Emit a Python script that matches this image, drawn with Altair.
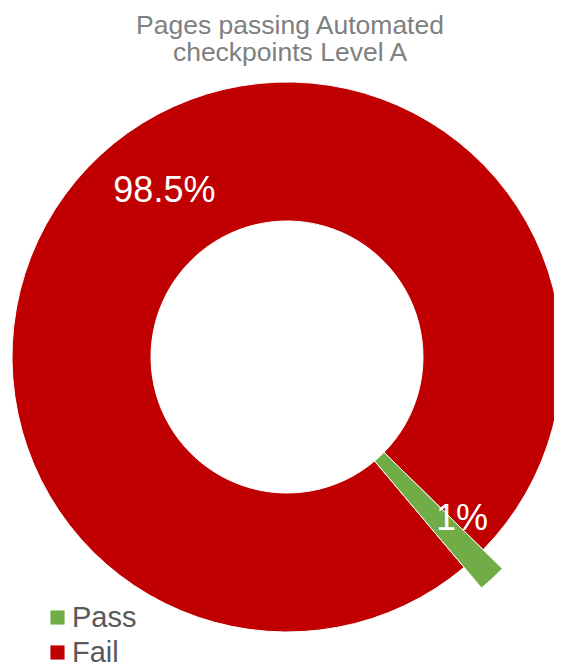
import math
import altair as alt
import pandas as pd

categories = ["Pass", "Fail"]
values = [1.5, 98.5]
label_text = ["1%", "98.5%"]
colors = ["#70AD47", "#C00000"]
order = [0, 1]

df = pd.DataFrame({"category": categories, "value": values,
                   "label": label_text, "order": order})

start = math.radians(134.5)
theta_scale = alt.Scale(domain=[0, 100], range=[start, start + 2 * math.pi])

CX, CY = 279, 279
R_OUT, R_IN, EXPLODE = 275, 136, 27
FONT = "Liberation Sans"

base = (
    alt.Chart(df)
    .transform_window(cum="sum(value)", sort=[alt.SortField("order")], frame=[None, 0])
    .transform_calculate(start="datum.cum - datum.value",
                         mid="datum.cum - datum.value / 2")
)

color = alt.Color(
    "category:N",
    scale=alt.Scale(domain=categories, range=colors),
    legend=alt.Legend(
        orient="none", legendX=35, legendY=525, title=None,
        symbolType="square", symbolSize=200, symbolStrokeWidth=0,
        labelFontSize=29, labelFont=FONT, labelColor="#595959",
        rowPadding=5, labelOffset=0, padding=0,
    ),
)

enc = dict(
    theta=alt.Theta("start:Q", scale=theta_scale),
    theta2=alt.Theta2("cum:Q"),
    color=color,
    x=alt.value(CX),
    y=alt.value(CY),
)

fail_arc = base.transform_filter("datum.category == 'Fail'").mark_arc(
    radius=R_OUT, radius2=R_IN, stroke="white", strokeWidth=1
).encode(**enc)

pass_arc = base.transform_filter("datum.category == 'Pass'").mark_arc(
    radius=R_OUT, radius2=R_IN, radiusOffset=EXPLODE, radius2Offset=EXPLODE,
    stroke="white", strokeWidth=1
).encode(**enc)

txt_enc = dict(
    theta=alt.Theta("mid:Q", scale=theta_scale),
    text=alt.Text("label:N"),
    x=alt.value(CX),
    y=alt.value(CY),
)

fail_text = base.transform_filter("datum.category == 'Fail'").mark_text(
    radius=(R_OUT + R_IN) / 2, fontSize=36, font=FONT, color="white", dx=17, dy=-15
).encode(**txt_enc)

pass_text = base.transform_filter("datum.category == 'Pass'").mark_text(
    radius=(R_OUT + R_IN) / 2 + EXPLODE, fontSize=36, font=FONT, color="white", dx=17, dy=-9
).encode(**txt_enc)

chart = (
    alt.layer(fail_arc, pass_arc, fail_text, pass_text)
    .properties(
        width=546, height=585,
        autosize=alt.AutoSizeParams(type="none"),
        padding={"top": 70, "left": 0, "right": 0, "bottom": 0},
        title=alt.Title(
            text=["Pages passing Automated", "checkpoints Level A"],
            fontSize=26.5, font=FONT, color="#808080", fontWeight="normal",
            anchor="middle", frame="group", baseline="alphabetic",
            offset=-9, lineHeight=27, dx=9,
        ),
    )
    .configure_view(stroke=None)
)

chart.save("out.html", embed_options={"renderer": "svg", "actions": False})
